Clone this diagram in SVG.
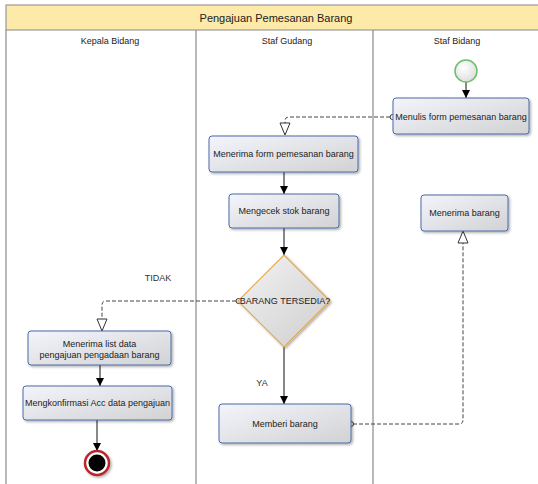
<svg xmlns="http://www.w3.org/2000/svg" width="538" height="484" viewBox="0 0 538 484">
<style>
text{font-family:"Liberation Sans",Arial,sans-serif;fill:#222;}
.t{font-size:9px;text-anchor:middle;}
.title{font-size:11px;text-anchor:middle;}
.lbl{font-size:9px;text-anchor:middle;fill:#333;}
.lane{stroke:#8a8a8a;stroke-width:1.2;fill:none;}
.box{fill:url(#bg);stroke:#4a6aa8;stroke-width:1;filter:url(#sh);}
.flow{stroke:#111;stroke-width:1;fill:none;}
.msg{stroke:#444;stroke-width:1;fill:none;stroke-dasharray:4,2;}
.tri{fill:#fff;stroke:#333;stroke-width:1;}
.src{fill:#fff;stroke:#333;stroke-width:1;}
</style>
<defs>
<linearGradient id="bg" x1="0" y1="0" x2="1" y2="1">
<stop offset="0" stop-color="#f3f5fb"/>
<stop offset="1" stop-color="#d2d2d4"/>
</linearGradient>
<linearGradient id="dg" x1="0" y1="0" x2="1" y2="1">
<stop offset="0" stop-color="#f4f4f4"/>
<stop offset="1" stop-color="#cdcdcd"/>
</linearGradient>
<radialGradient id="sg" cx="0.4" cy="0.35" r="0.7">
<stop offset="0" stop-color="#ffffff"/>
<stop offset="1" stop-color="#dcdcdc"/>
</radialGradient>
<filter id="sh" x="-10%" y="-10%" width="130%" height="140%">
<feDropShadow dx="1.5" dy="1.5" stdDeviation="1" flood-color="#000" flood-opacity="0.3"/>
</filter>
<marker id="ah" markerWidth="8" markerHeight="8" refX="8" refY="4" orient="auto" markerUnits="userSpaceOnUse">
<path d="M0,0 L8,4 L0,8 z" fill="#000"/>
</marker>
</defs>

<g id="pool">
<rect x="6" y="5" width="540" height="25" fill="#fde9a8" stroke="#9a9a9a" stroke-width="1.2"/>
<text class="title" x="276" y="22">Pengajuan Pemesanan Barang</text>
<line class="lane" x1="6" y1="30" x2="6" y2="490"/>
<line class="lane" x1="196" y1="30" x2="196" y2="490"/>
<line class="lane" x1="373" y1="30" x2="373" y2="490"/>
<text class="t" x="110" y="44">Kepala Bidang</text>
<text class="t" x="287" y="44">Staf Gudang</text>
<text class="t" x="457" y="44">Staf Bidang</text>
</g>

<g id="connectors">
<line class="flow" x1="466" y1="82" x2="466" y2="98" marker-end="url(#ah)"/>
<line class="flow" x1="284" y1="172" x2="284" y2="194" marker-end="url(#ah)"/>
<line class="flow" x1="284" y1="228" x2="284" y2="255" marker-end="url(#ah)"/>
<line class="flow" x1="284" y1="347" x2="284" y2="404" marker-end="url(#ah)"/>
<line class="flow" x1="100" y1="365" x2="100" y2="386" marker-end="url(#ah)"/>
<line class="flow" x1="97" y1="420" x2="97" y2="451" marker-end="url(#ah)"/>

<path class="msg" d="M390,117 H289 Q285,117 285,121 V123"/>
<circle class="src" cx="392.5" cy="117" r="2.5"/>
<path class="tri" d="M280,123 L290,123 L285,135 z"/>

<path class="msg" d="M236,301 H106 Q102,301 102,305 V319"/>
<circle class="src" cx="238.5" cy="301" r="2.5"/>
<path class="tri" d="M97,319 L107,319 L102,331 z"/>

<path class="msg" d="M353,424 H459 Q463,424 463,420 V243"/>
<circle class="src" cx="351" cy="424" r="2.5"/>
<path class="tri" d="M458,243 L468,243 L463,231 z"/>

<text class="lbl" x="158" y="281">TIDAK</text>
<text class="lbl" x="262" y="386">YA</text>
</g>

<g id="start">
<circle cx="466" cy="71" r="11" fill="url(#sg)" stroke="#6bbf6b" stroke-width="1.5"/>
</g>

<g id="menulis">
<rect class="box" x="393" y="98" width="136" height="36" rx="3"/>
<text class="t" x="461" y="120">Menulis form pemesanan barang</text>
</g>

<g id="menerima-form">
<rect class="box" x="209" y="136" width="149" height="36" rx="3"/>
<text class="t" x="283.5" y="157">Menerima form pemesanan barang</text>
</g>

<g id="mengecek">
<rect class="box" x="229" y="194" width="110" height="34" rx="3"/>
<text class="t" x="284" y="214">Mengecek stok barang</text>
</g>

<g id="menerima-barang">
<rect class="box" x="421" y="195" width="87" height="36" rx="3"/>
<text class="t" x="464.5" y="216">Menerima barang</text>
</g>

<g id="decision">
<path d="M284,255 L330,301 L284,347 L238,301 z" fill="url(#dg)" stroke="#e2a94e" stroke-width="1.2" filter="url(#sh)"/>
<text class="t" x="285" y="304">BARANG TERSEDIA?</text>
</g>

<g id="menerima-list">
<rect class="box" x="28" y="331" width="143" height="34" rx="3"/>
<text class="t" x="99.5" y="347">Menerima list data</text>
<text class="t" x="99.5" y="358">pengajuan pengadaan barang</text>
</g>

<g id="mengkonfirmasi">
<rect class="box" x="23" y="386" width="149" height="34" rx="3"/>
<text class="t" x="97.5" y="406">Mengkonfirmasi Acc data pengajuan</text>
</g>

<g id="memberi">
<rect class="box" x="219" y="404" width="132" height="39" rx="3"/>
<text class="t" x="285" y="427">Memberi barang</text>
</g>

<g id="end">
<circle cx="97" cy="463" r="12" fill="#fff" stroke="#b8252c" stroke-width="2.5" filter="url(#sh)"/>
<circle cx="97" cy="463" r="8.5" fill="#000"/>
</g>
</svg>
